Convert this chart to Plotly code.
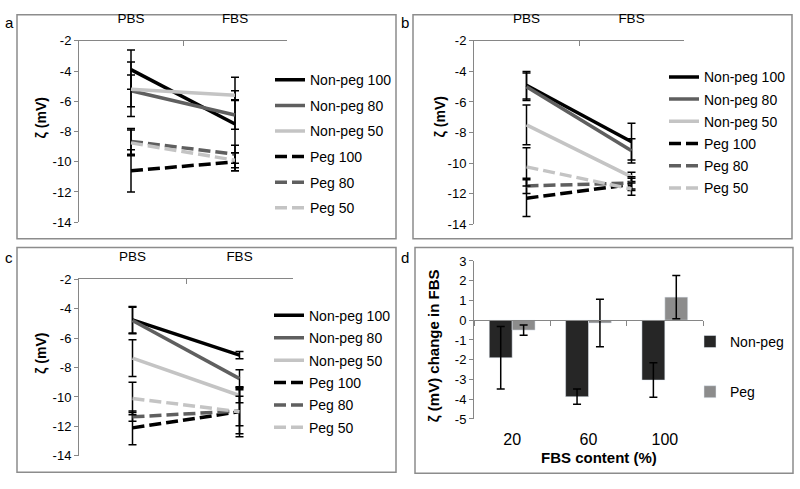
import plotly.graph_objects as go

# ---------------- data ----------------
conditions = ["PBS", "FBS"]
series_names = ["Non-peg 100", "Non-peg 80", "Non-peg 50", "Peg 100", "Peg 80", "Peg 50"]

# panel a
a_np100 = [-3.9, -7.5];   a_np100_err = [1.3, 3.1]
a_np80 = [-5.3, -6.9];    a_np80_err = [1.05, 0.95]
a_np50 = [-5.2, -5.6];    a_np50_err = [1.8, 0.3]
a_p100 = [-10.6, -10.0];  a_p100_err = [1.4, 0.6]
a_p80 = [-8.65, -9.5];    a_p80_err = [0.85, 0.6]
a_p50 = [-8.75, -9.9];    a_p50_err = [0.85, 0.5]

# panel b
b_np100 = [-4.9, -8.6];   b_np100_err = [0.9, 1.2]
b_np80 = [-5.0, -9.2];    b_np80_err = [0.9, 0.8]
b_np50 = [-7.5, -10.9];   b_np50_err = [1.3, 0.3]
b_p100 = [-12.3, -11.4];  b_p100_err = [1.2, 0.4]
b_p80 = [-11.5, -11.3];   b_p80_err = [0.5, 0.4]
b_p50 = [-10.25, -11.7];  b_p50_err = [1.25, 0.4]

# panel c
c_np100 = [-4.75, -7.15]; c_np100_err = [0.9, 0.25]
c_np80 = [-4.8, -8.75];   c_np80_err = [0.9, 0.6]
c_np50 = [-7.35, -9.9];   c_np50_err = [1.25, 0.5]
c_p100 = [-12.1, -11.0];  c_p100_err = [1.15, 1.7]
c_p80 = [-11.35, -10.95]; c_p80_err = [0.3, 1.0]
c_p50 = [-10.1, -11.0];   c_p50_err = [1.1, 1.5]

# panel d
fbs_content = ["20", "60", "100"]
d_nonpeg = [-1.9, -3.87, -3.03];  d_nonpeg_err = [1.58, 0.39, 0.87]
d_peg = [-0.5, -0.14, 1.17];      d_peg_err = [0.26, 1.2, 1.1]

y_ticks_lines = [-2, -4, -6, -8, -10, -12, -14]
y_ticks_bars = [3, 2, 1, 0, -1, -2, -3, -4, -5]

# ---------------- styling ----------------
W, H = 800, 489
FONT = "Arial, Liberation Sans, sans-serif"
AXIS_GRAY = "#868686"
line_colors = ["#000000", "#5f5f5f", "#c4c4c4", "#000000", "#5f5f5f", "#c4c4c4"]
line_dashes = ["solid", "solid", "solid", "12px,5px", "12px,5px", "12px,5px"]

def fx(p):
    return p / W

def fy(p):
    return 1 - p / H

fig = go.Figure()

line_panels = [
    ("a", "x", "y", "legend",
     [a_np100, a_np80, a_np50, a_p100, a_p80, a_p50],
     [a_np100_err, a_np80_err, a_np50_err, a_p100_err, a_p80_err, a_p50_err]),
    ("b", "x2", "y2", "legend2",
     [b_np100, b_np80, b_np50, b_p100, b_p80, b_p50],
     [b_np100_err, b_np80_err, b_np50_err, b_p100_err, b_p80_err, b_p50_err]),
    ("c", "x3", "y3", "legend3",
     [c_np100, c_np80, c_np50, c_p100, c_p80, c_p50],
     [c_np100_err, c_np80_err, c_np50_err, c_p100_err, c_p80_err, c_p50_err]),
]

for tag, xa, ya, lg, vals, errs in line_panels:
    for i, name in enumerate(series_names):
        fig.add_trace(go.Scatter(
            x=conditions, y=vals[i], name=name, mode="lines",
            line=dict(color=line_colors[i], width=3.5, dash=line_dashes[i]),
            error_y=dict(type="data", array=errs[i], color="#000000",
                         thickness=1.5, width=4),
            xaxis=xa, yaxis=ya, legend=lg, legendgroup=f"{tag}{i}",
            hoverinfo="skip",
        ))

fig.add_trace(go.Bar(
    x=fbs_content, y=d_nonpeg, name="Non-peg", marker_color="#262626",
    error_y=dict(type="data", array=d_nonpeg_err, color="#000000", thickness=1.5, width=4),
    xaxis="x4", yaxis="y4", legend="legend4", legendgroup="d0",
))
fig.add_trace(go.Bar(
    x=fbs_content, y=d_peg, name="Peg", marker_color="#8c8c8c",
    error_y=dict(type="data", array=d_peg_err, color="#000000", thickness=1.5, width=4),
    xaxis="x4", yaxis="y4", legend="legend4", legendgroup="d1",
))
# helper trace to carry the zero-line category axis of panel d
fig.add_trace(go.Scatter(
    x=fbs_content, y=[None] * len(fbs_content), mode="lines", showlegend=False,
    xaxis="x5", yaxis="y4", hoverinfo="skip",
))

geom = {
    "a": dict(x0=79, x1=287, y0=35, y1=222),
    "b": dict(x0=474, x1=684, y0=35, y1=224),
    "c": dict(x0=79, x1=293, y0=281, y1=463),
    "d": dict(x0=474, x1=703, y0=262, y1=425),
}

def line_xaxis(g, anchor):
    return dict(
        domain=[fx(g["x0"]), fx(g["x1"])], anchor=anchor, side="top",
        type="category", categoryarray=conditions, range=[-0.5, len(conditions) - 0.5],
        showline=True, linecolor=AXIS_GRAY, linewidth=1,
        ticks="inside", tickson="boundaries", ticklen=5, tickcolor=AXIS_GRAY,
        tickfont=dict(size=13.5, color="#000"), ticklabelstandoff=12,
        showgrid=False, zeroline=False, fixedrange=True,
    )

def line_yaxis(g, anchor):
    return dict(
        domain=[fy(g["y1"]), fy(g["y0"])], anchor=anchor,
        range=[min(y_ticks_lines), max(y_ticks_lines)],
        tickvals=y_ticks_lines, ticktext=[str(v) for v in y_ticks_lines],
        showline=True, linecolor=AXIS_GRAY, linewidth=1,
        ticks="outside", ticklen=4, tickcolor=AXIS_GRAY,
        tickfont=dict(size=13, color="#000"),
        showgrid=False, zeroline=False, fixedrange=True,
    )

gd = geom["d"]
d_ydom = [fy(gd["y1"]), fy(gd["y0"])]
d_range = [min(y_ticks_bars), max(y_ticks_bars)]
zero_pos = d_ydom[0] + (0 - d_range[0]) / (d_range[1] - d_range[0]) * (d_ydom[1] - d_ydom[0])

fig.update_layout(
    width=W, height=H, margin=dict(l=0, r=0, t=0, b=0),
    paper_bgcolor="white", plot_bgcolor="white",
    font=dict(family=FONT, color="#000"),
    barmode="group", bargap=0.4, bargroupgap=0,
    xaxis=line_xaxis(geom["a"], "y"), yaxis=line_yaxis(geom["a"], "x"),
    xaxis2=line_xaxis(geom["b"], "y2"), yaxis2=line_yaxis(geom["b"], "x2"),
    xaxis3=line_xaxis(geom["c"], "y3"), yaxis3=line_yaxis(geom["c"], "x3"),
    xaxis4=dict(
        domain=[fx(gd["x0"]), fx(gd["x1"])], anchor="y4",
        type="category", categoryarray=fbs_content, range=[-0.5, len(fbs_content) - 0.5],
        showline=False, ticks="", tickfont=dict(size=16, color="#000"),
        ticklabelstandoff=9, showgrid=False, zeroline=False, fixedrange=True,
    ),
    xaxis5=dict(
        domain=[fx(gd["x0"]), fx(gd["x1"])], anchor="free", position=zero_pos,
        overlaying="x4",
        type="category", categoryarray=fbs_content, range=[-0.5, len(fbs_content) - 0.5],
        showline=True, linecolor=AXIS_GRAY, linewidth=1,
        ticks="outside", tickson="boundaries", ticklen=5, tickcolor=AXIS_GRAY,
        showticklabels=False, showgrid=False, zeroline=False, fixedrange=True,
    ),
    yaxis4=dict(
        domain=d_ydom, anchor="x4", range=d_range,
        tickvals=y_ticks_bars, ticktext=[str(v) for v in y_ticks_bars],
        showline=True, linecolor=AXIS_GRAY, linewidth=1,
        ticks="outside", ticklen=4, tickcolor=AXIS_GRAY,
        tickfont=dict(size=13, color="#000"),
        showgrid=False, zeroline=False, fixedrange=True,
    ),
)

legend_common = dict(
    xanchor="left", yanchor="top", bgcolor="rgba(0,0,0,0)",
    font=dict(size=14, color="#000", family=FONT), itemwidth=30,
    traceorder="grouped", itemclick=False, itemdoubleclick=False,
)
fig.update_layout(
    legend=dict(x=fx(270), y=fy(59), tracegroupgap=4.4, **legend_common),
    legend2=dict(x=fx(664), y=fy(56), tracegroupgap=1.0, **legend_common),
    legend3=dict(x=fx(269), y=fy(302), tracegroupgap=1.2, **legend_common),
    legend4=dict(x=fx(690), y=fy(329), tracegroupgap=29, **legend_common),
)

# panel frames
frames = [(17, 8, 396, 239), (413, 8, 792, 239), (17, 248, 396, 480), (415, 248, 793, 481)]
for x0, y0, x1, y1 in frames:
    fig.add_shape(type="rect", xref="paper", yref="paper",
                  x0=fx(x0), x1=fx(x1), y0=fy(y1), y1=fy(y0),
                  line=dict(color="#8c8c8c", width=1.5), fillcolor="rgba(0,0,0,0)", layer="below")

annots = [
    ("a", 9, 16, 15, False, 0), ("b", 405, 16, 15, False, 0),
    ("c", 9, 258, 15, False, 0), ("d", 405, 258, 15, False, 0),
    ("ζ (mV)", 41, 115, 14, True, -90), ("ζ (mV)", 440, 114, 14, True, -90),
    ("ζ (mV)", 41, 358, 14, True, -90), ("ζ (mV) change in FBS", 433, 350, 15, True, -90),
    ("FBS content (%)", 599, 465, 15, True, 0),
]
for text, px, py, size, bold, ang in annots:
    fig.add_annotation(
        text=f"<b>{text}</b>" if bold else text, xref="paper", yref="paper",
        x=fx(px), y=fy(py), xanchor="center", yanchor="middle", showarrow=False,
        textangle=ang, font=dict(size=size, color="#000", family=FONT),
    )

fig.write_html(
    "out.html",
    config={"displayModeBar": False},
    post_script="document.body.style.margin='0';document.body.style.overflow='hidden';",
)
